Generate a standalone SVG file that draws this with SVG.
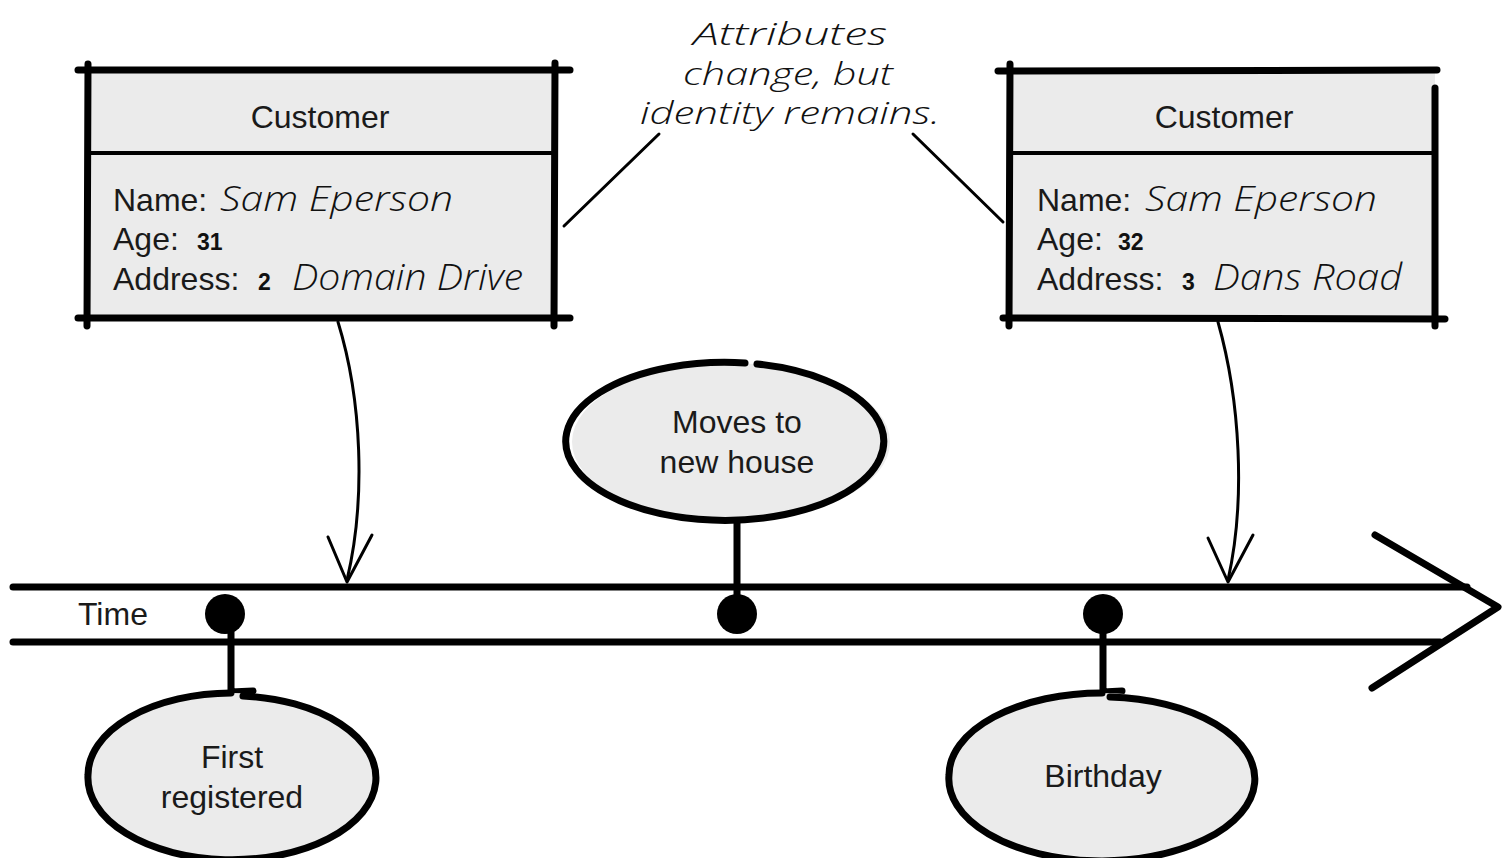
<svg xmlns="http://www.w3.org/2000/svg" width="1502" height="858" viewBox="0 0 1502 858">
  <style>
    .bg { fill: #ffffff; }
    .fill { fill: #ebebeb; }
    .thick { fill: none; stroke: #000; stroke-width: 7; stroke-linecap: round; stroke-linejoin: round; }
    .mid { fill: none; stroke: #000; stroke-width: 4; stroke-linecap: round; }
    .thin { fill: none; stroke: #000; stroke-width: 3; stroke-linecap: round; stroke-linejoin: round; }
    .label { font-family: "Liberation Sans", Arial, sans-serif; font-size: 32px; fill: #1a1a1a; }
    .hand { font-family: "Open Sans", "DejaVu Sans", sans-serif; font-style: italic; font-weight: 300; fill: #111; }
    .num { font-family: "Liberation Sans", Arial, sans-serif; font-weight: bold; font-size: 23px; fill: #111; }
    .dot { fill: #000; }
  </style>

  <rect class="bg" x="0" y="0" width="1502" height="858"/>

  <!-- note text -->
  <g id="note">
    <text class="hand" font-size="32" x="693" y="45" textLength="194" lengthAdjust="spacingAndGlyphs">Attributes</text>
    <text class="hand" font-size="32" x="683" y="85" textLength="210" lengthAdjust="spacingAndGlyphs">change, but</text>
    <text class="hand" font-size="32" x="640" y="124" textLength="300" lengthAdjust="spacingAndGlyphs">identity remains.</text>
  </g>

  <!-- customer, before -->
  <g id="customer-before">
    <rect class="fill" x="88" y="72" width="465" height="245"/>
    <path class="thick" d="M78,70 L570,70"/>
    <path class="thick" d="M78,318 L570,318"/>
    <path class="thick" d="M88,64 L87,326"/>
    <path class="thick" d="M555,63 L554,326"/>
    <path class="mid" d="M88,153 L553,153"/>
    <text class="label" x="320" y="128" text-anchor="middle">Customer</text>
    <text class="label" x="113" y="211">Name:</text>
    <text class="hand" font-size="34" x="220" y="211" textLength="233" lengthAdjust="spacingAndGlyphs">Sam Eperson</text>
    <text class="label" x="113" y="250">Age:</text>
    <text class="num" x="197" y="250">31</text>
    <text class="label" x="113" y="290">Address:</text>
    <text class="num" x="258" y="290">2</text>
    <text class="hand" font-size="36" x="292" y="290" textLength="231" lengthAdjust="spacingAndGlyphs">Domain Drive</text>
  </g>

  <!-- customer, after -->
  <g id="customer-after">
    <rect class="fill" x="1010" y="72" width="425" height="245"/>
    <path class="thick" d="M998,71 L1437,70"/>
    <path class="thick" d="M1003,318 L1445,319"/>
    <path class="thick" d="M1010,64 L1009,326"/>
    <path class="thick" d="M1435,88 L1435,326"/>
    <path class="mid" d="M1010,153 L1435,153"/>
    <text class="label" x="1224" y="128" text-anchor="middle">Customer</text>
    <text class="label" x="1037" y="211">Name:</text>
    <text class="hand" font-size="34" x="1145" y="211" textLength="232" lengthAdjust="spacingAndGlyphs">Sam Eperson</text>
    <text class="label" x="1037" y="250">Age:</text>
    <text class="num" x="1118" y="250">32</text>
    <text class="label" x="1037" y="290">Address:</text>
    <text class="num" x="1182" y="290">3</text>
    <text class="hand" font-size="36" x="1213" y="290" textLength="189" lengthAdjust="spacingAndGlyphs">Dans Road</text>
  </g>

  <!-- time axis -->
  <g id="timeline">
    <path class="thick" d="M13,587 L1467,587"/>
    <path class="thick" d="M13,642 L1440,642"/>
    <path class="thick" stroke-width="8" d="M1375,535 L1498,607 L1372,688"/>
    <text class="label" x="78" y="625" font-size="31">Time</text>
  </g>

  <!-- events -->
  <g id="event-first-registered">
    <path class="thick" d="M231,613 L231,692 L253,691"/>
    <circle class="dot" cx="225" cy="614" r="20"/>
    <path class="fill" d="M88,775 A144,82 0 1,1 376,775 A144,82 0 1,1 88,775 Z"/>
    <path class="thick" d="M243,696 A144,82 0 1,1 88,775 A144,82 0 0,1 231,693"/>
    <text class="label" x="232" y="768" text-anchor="middle">First</text>
    <text class="label" x="232" y="808" text-anchor="middle">registered</text>
  </g>

  <g id="event-moves">
    <path class="fill" d="M572,442 A159,79 0 1,1 890,442 A159,79 0 1,1 572,442 Z"/>
    <path class="thick" d="M757,364 A159,79 0 1,1 745,363"/>
    <path class="thick" d="M737,522 L737,600"/>
    <circle class="dot" cx="737" cy="614" r="20"/>
    <text class="label" x="737" y="433" text-anchor="middle">Moves to</text>
    <text class="label" x="737" y="473" text-anchor="middle">new house</text>
  </g>

  <g id="event-birthday">
    <path class="thick" d="M1103,613 L1103,692 L1122,691"/>
    <circle class="dot" cx="1103" cy="614" r="20"/>
    <path class="fill" d="M949,775 A153,82 0 1,1 1255,775 A153,82 0 1,1 949,775 Z"/>
    <path class="thick" d="M1110,697 A153,82 0 1,1 949,775 A153,82 0 0,1 1102,693"/>
    <text class="label" x="1103" y="787" text-anchor="middle">Birthday</text>
  </g>

  <!-- connectors -->
  <g id="connectors">
    <path class="thin" d="M659,134 L564,226"/>
    <path class="thin" d="M913,134 L1003,222"/>
    <path class="thin" d="M338,322 C362,400 366,500 347,580"/>
    <path class="thin" d="M328,537 L347,582 L372,535"/>
    <path class="thin" d="M1218,322 C1240,400 1246,500 1228,580"/>
    <path class="thin" d="M1208,538 L1228,582 L1253,535"/>
  </g>
</svg>
